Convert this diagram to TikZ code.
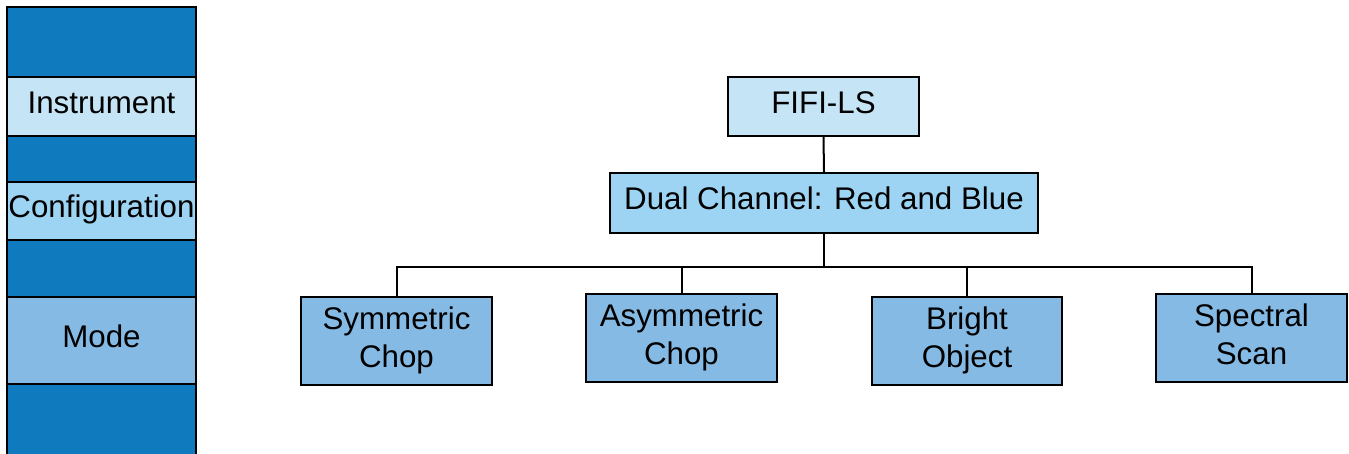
\documentclass[tikz,border=0pt]{standalone}
\usepackage{fontspec}
\setmainfont{Liberation Sans}
\definecolor{bandblue}{HTML}{0F7BBE}
\definecolor{lightblue}{HTML}{C5E5F7}
\definecolor{midblue}{HTML}{9DD4F3}
\definecolor{modeblue}{HTML}{85BAE4}
\begin{document}
\begin{tikzpicture}[x=1pt,y=-1pt,
  box/.style={draw=black,line width=2pt,rectangle,inner sep=0pt,align=center,
    font=\fontsize{31.3}{38}\selectfont,text height=22pt,text depth=8pt},
  twoline/.style={box,text height=60pt,text depth=8pt},
  conn/.style={draw=black,line width=2pt}]
\useasboundingbox (0,0) rectangle (1349,454);
% left column
\path[fill=bandblue,draw=black,line width=2.5pt] (7,7) rectangle (196,470);
\node[box,fill=lightblue,minimum width=189pt,minimum height=59pt] (lins) at (101.5,106.5) {Instrument};
\node[box,fill=midblue,minimum width=189pt,minimum height=58pt] (lconf) at (101.5,211) {Configuration};
\node[box,fill=modeblue,minimum width=189pt,minimum height=87pt] (lmode) at (101.5,340.5) {Mode};
% tree
\node[box,fill=lightblue,minimum width=191pt,minimum height=59pt] (fifi) at (823.5,106.5) {FIFI-LS};
\node[box,fill=midblue,minimum width=428pt,minimum height=60pt] (dual) at (824,203) {Dual Channel: Red and Blue};
\node[twoline,fill=modeblue,minimum width=191pt,minimum height=88pt] (sym) at (396.5,341) {Symmetric\\Chop};
\node[twoline,fill=modeblue,minimum width=191pt,minimum height=88pt] (asym) at (681.5,338) {Asymmetric\\Chop};
\node[twoline,fill=modeblue,minimum width=190pt,minimum height=88pt] (bright) at (967,341) {Bright\\Object};
\node[twoline,fill=modeblue,minimum width=191pt,minimum height=88pt] (spec) at (1251.5,338) {Spectral\\Scan};
\coordinate (bus) at (824,267);
\draw[conn] (fifi.south) -- (dual.north);
\draw[conn] (dual.south) -- (bus);
\draw[conn] (sym.north) |- (bus);
\draw[conn] (asym.north) |- (bus);
\draw[conn] (bright.north) |- (bus);
\draw[conn] (spec.north) |- (bus);
\end{tikzpicture}
\end{document}
